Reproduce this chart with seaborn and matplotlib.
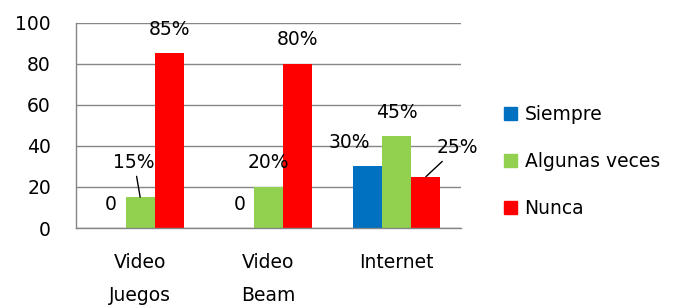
import matplotlib
matplotlib.use("Agg")
import matplotlib.pyplot as plt
import numpy as np
import pandas as pd
import seaborn as sns

# Datos del grafico
categorias = ["Video\nJuegos", "Video\nBeam", "Internet"]
series = ["Siempre", "Algunas veces", "Nunca"]
siempre = [0, 0, 30]
algunas = [15, 20, 45]
nunca = [85, 80, 25]
colores = ["#0070C0", "#92D050", "#FF0000"]

# desplazamiento de cada etiqueta (pixeles) respecto a la punta de la barra
desplaz = {
    (0, 0): (0, 24), (1, 0): (-6, 35), (2, 0): (0, 24),
    (0, 1): (0, 24), (1, 1): (0, 24), (2, 1): (0, 24),
    (0, 2): (-18, 24), (1, 2): (0, 23), (2, 2): (31, 29),
}
con_linea = {(1, 0), (2, 2)}

df = pd.DataFrame({
    "categoria": categorias * 3,
    "serie": np.repeat(series, 3),
    "valor": siempre + algunas + nunca,
})

sns.set_style("white")
plt.rcParams["font.family"] = ["DejaVu Sans"]
plt.rcParams["text.color"] = "black"
plt.rcParams["xtick.color"] = "black"
plt.rcParams["ytick.color"] = "black"
gris = "#868686"
fs = 13.5

fig = plt.figure(figsize=(6.8, 3.08), dpi=100)
ax = fig.add_axes([76 / 680, 1 - 228 / 308, (461 - 76) / 680, (228 - 22.7) / 308])

sns.barplot(data=df, x="categoria", y="valor", hue="serie", order=categorias,
            hue_order=series, palette=colores, saturation=1, width=0.68,
            linewidth=0, ax=ax, legend=False)

ax.set_xlim(-0.5, 2.5)
ax.set_ylim(0, 100)
ax.set_yticks(range(0, 101, 20))
ax.yaxis.grid(True, color=gris, linewidth=1)
ax.set_axisbelow(True)
for s in ["top", "right"]:
    ax.spines[s].set_visible(False)
for s in ["left", "bottom"]:
    ax.spines[s].set_color(gris)
    ax.spines[s].set_linewidth(1)

ax.set_xticks(range(len(categorias)))
ax.set_xticklabels(categorias, fontsize=fs, linespacing=1.95)
ax.set_xticks([-0.5, 0.5, 1.5, 2.5], minor=True)
ax.tick_params(axis="x", which="major", length=0, pad=18, labelcolor="black")
ax.tick_params(axis="x", which="minor", length=10, color=gris, width=1)
ax.tick_params(axis="y", length=8, color=gris, width=1, pad=10, labelsize=fs,
               labelcolor="black")
ax.set_xlabel("")
ax.set_ylabel("")

# etiquetas de datos
for i, cont in enumerate(ax.containers):
    for j, barra in enumerate(cont):
        v = barra.get_height()
        texto = "0" if v == 0 else f"{v:.0f}%"
        x = barra.get_x() + barra.get_width() / 2
        dx, dy = desplaz[(i, j)]
        props = None
        if (i, j) in con_linea:
            props = dict(arrowstyle="-", color="black", lw=1, shrinkA=1, shrinkB=0)
        ax.annotate(texto, xy=(x, v), xytext=(dx, dy), textcoords="offset pixels",
                    ha="center", va="center", fontsize=fs, color="black",
                    arrowprops=props)

handles = [plt.Rectangle((0, 0), 1, 1, color=c) for c in colores]
ax.legend(handles, series, loc="center left", bbox_to_anchor=(504 / 680, 1 - 161.5 / 308),
          bbox_transform=fig.transFigure, frameon=False, fontsize=fs,
          handlelength=0.7, handleheight=0.7, handletextpad=0.4,
          labelspacing=1.5, borderpad=0, borderaxespad=0)

fig.savefig("out.png", dpi=100)
